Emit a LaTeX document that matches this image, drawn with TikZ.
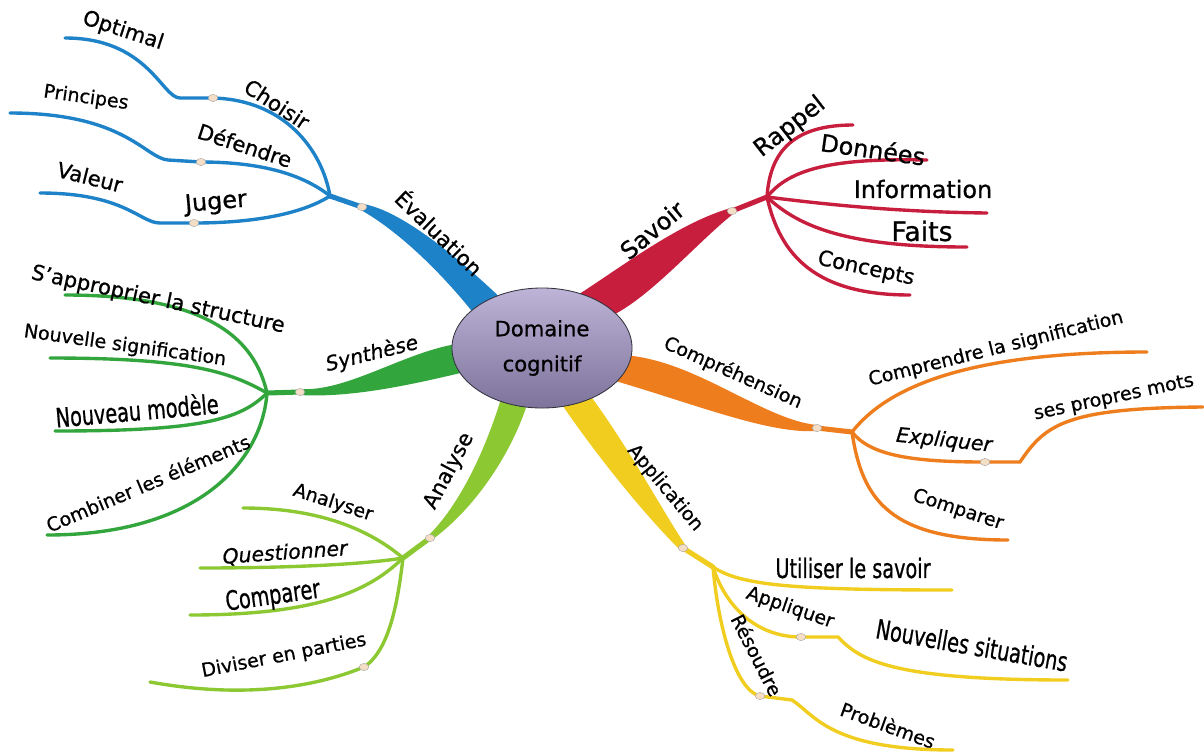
\documentclass[tikz,border=0pt]{standalone}
\usepackage{fontspec}
\setmainfont{DejaVu Sans}[FakeBold=0.7]
\usetikzlibrary{shapes.geometric}
\pgfdeclarelayer{back}
\pgfsetlayers{back,main}
\definecolor{evalblue}{RGB}{30,130,200}
\definecolor{savred}{RGB}{200,30,62}
\definecolor{comporange}{RGB}{238,125,30}
\definecolor{appyellow}{RGB}{240,205,30}
\definecolor{anagreen}{RGB}{140,200,50}
\definecolor{syngreen}{RGB}{50,165,60}
\definecolor{bubbletop}{RGB}{190,180,215}
\definecolor{bubblebot}{RGB}{125,115,155}
\definecolor{bubbleline}{RGB}{50,50,60}
\definecolor{knotfill}{RGB}{245,222,198}
\tikzstyle{bubble} = [ellipse, minimum width=4.5cm, minimum height=3cm, inner sep=0pt, align=center, draw=bubbleline, line width=0.6pt, top color=bubbletop, bottom color=bubblebot, font=\fontsize{15}{25}\selectfont]
\tikzstyle{knot} = [ellipse, minimum width=2.4mm, minimum height=1.8mm, inner sep=0pt, fill=knotfill, draw=black!35, line width=0.3pt]
\tikzstyle{twig} = [line width=2.4pt, line cap=round]
\tikzstyle{stem} = [line width=3.6pt, line cap=round]
\tikzstyle{txt} = [inner sep=1pt, font=\fontsize{15}{18}\selectfont]
\tikzstyle{txtsmall} = [inner sep=1pt, font=\fontsize{13.5}{16}\selectfont]
\tikzstyle{txtbig} = [inner sep=1pt, font=\fontsize{17}{20}\selectfont]
\tikzstyle{txthuge} = [inner sep=1pt, font=\fontsize{19}{22}\selectfont]
\tikzstyle{txtit} = [inner sep=1pt, font=\fontsize{14.5}{17}\selectfont\itshape]
\tikzstyle{txtnarrow} = [inner sep=1pt, font=\fontsize{19}{22}\selectfont\addfontfeature{FakeStretch=0.72}]

\begin{document}
\begin{tikzpicture}[x=0.025cm, y=-0.025cm]
\useasboundingbox (0,0) rectangle (1204,752);
\node (dom) [bubble] at (542,348) {Domaine\\cognitif};

% knots on the branches
\node (kEval) [knot] at (362,207) {};
\node (kChoi) [knot] at (213,98) {};
\node (kDef) [knot] at (201,162) {};
\node (kJug) [knot] at (194,223) {};
\node (kSav) [knot] at (732,211) {};
\node (kCom) [knot] at (817,428) {};
\node (kExp) [knot] at (985,462) {};
\node (kApp) [knot] at (683,548) {};
\node (kApl) [knot] at (801,637) {};
\node (kRes) [knot] at (760,696) {};
\node (kAna) [knot] at (430,538) {};
\node (kDiv) [knot] at (364,667) {};
\node (kSyn) [knot] at (300,392) {};

% forks and ends
\coordinate (bEval) at (330,196);
\coordinate (cOpt) at (180,98);
\coordinate (eOpt) at (65,38);
\coordinate (cPri) at (168,160);
\coordinate (ePri) at (10,113);
\coordinate (cVal) at (160,223);
\coordinate (eVal) at (40,193);
\coordinate (bSav) at (767,197);
\coordinate (eRap) at (853,125);
\coordinate (eDon) at (927,160);
\coordinate (eInf) at (987,213);
\coordinate (eFai) at (967,247);
\coordinate (eCon) at (910,295);
\coordinate (bCom) at (852,432);
\coordinate (eSig) at (1147,352);
\coordinate (cMot) at (1020,462);
\coordinate (eMot) at (1203,407);
\coordinate (eCmp) at (1008,540);
\coordinate (bApp) at (713,567);
\coordinate (eUti) at (952,590);
\coordinate (cSit) at (838,637);
\coordinate (eSit) at (1068,680);
\coordinate (cPro) at (792,700);
\coordinate (ePro) at (953,750);
\coordinate (bAna) at (403,558);
\coordinate (eAnr) at (243,508);
\coordinate (eQue) at (200,568);
\coordinate (eCpr) at (190,615);
\coordinate (eDiv) at (150,682);
\coordinate (bSyn) at (267,393);
\coordinate (eStr) at (65,295);
\coordinate (eNsi) at (50,358);
\coordinate (eNmo) at (55,431);
\coordinate (eCmb) at (47,535);

\begin{pgfonlayer}{back}
\fill[white] (0,0) rectangle (1204,752);
% Evaluation
\fill[evalblue] (dom.152) .. controls (455,290) and (410,238) .. ([shift={(-1,3)}]kEval.center) -- ([shift={(1,-3)}]kEval.center) .. controls (400,210) and (455,255) .. (dom.130) -- cycle;
\draw[stem, evalblue] (kEval.center) -- (bEval);
\draw[twig, evalblue] (bEval) .. controls (322,150) and (285,100) .. (kChoi.center) -- (cOpt) .. controls (162,98) and (148,38) .. (eOpt);
\draw[twig, evalblue] (bEval) .. controls (300,172) and (255,162) .. (kDef.center) -- (cPri) .. controls (145,158) and (125,113) .. (ePri);
\draw[twig, evalblue] (bEval) .. controls (305,212) and (260,223) .. (kJug.center) -- (cVal) .. controls (140,223) and (125,193) .. (eVal);
% Savoir
\fill[savred] (dom.55) .. controls (620,268) and (680,222) .. ([shift={(-1,-3)}]kSav.center) -- ([shift={(1,3)}]kSav.center) .. controls (698,242) and (655,292) .. (dom.25) -- cycle;
\draw[stem, savred] (kSav.center) -- (bSav);
\draw[twig, savred] (bSav) .. controls (770,150) and (795,125) .. (eRap);
\draw[twig, savred] (bSav) .. controls (790,168) and (835,158) .. (eDon);
\draw[twig, savred] (bSav) .. controls (830,205) and (900,212) .. (eInf);
\draw[twig, savred] (bSav) .. controls (800,228) and (850,247) .. (eFai);
\draw[twig, savred] (bSav) .. controls (780,255) and (815,295) .. (eCon);
% Comprehension
\fill[comporange] (dom.-5) .. controls (700,364) and (765,420) .. ([shift={(0,-3)}]kCom.center) -- ([shift={(0,3)}]kCom.center) .. controls (770,434) and (700,406) .. (dom.-24) -- cycle;
\draw[stem, comporange] (kCom.center) -- (bCom);
\draw[twig, comporange] (bCom) .. controls (885,390) and (960,352) .. (eSig);
\draw[twig, comporange] (bCom) .. controls (870,455) and (910,462) .. (kExp.center) -- (cMot) .. controls (1045,425) and (1065,408) .. (eMot);
\draw[twig, comporange] (bCom) .. controls (862,500) and (890,540) .. (eCmp);
% Application
\fill[appyellow] (dom.-45) .. controls (630,450) and (662,510) .. ([shift={(3,-2)}]kApp.center) -- ([shift={(-3,2)}]kApp.center) .. controls (645,515) and (600,460) .. (dom.-70) -- cycle;
\draw[stem, appyellow] (kApp.center) -- (bApp);
\draw[twig, appyellow] (bApp) .. controls (740,585) and (790,590) .. (eUti);
\draw[twig, appyellow] (bApp) .. controls (725,605) and (755,637) .. (kApl.center) -- (cSit) .. controls (860,660) and (890,680) .. (eSit);
\draw[twig, appyellow] (bApp) .. controls (718,625) and (735,690) .. (kRes.center) -- (cPro) .. controls (815,715) and (830,750) .. (ePro);
% Analyse
\fill[anagreen] (dom.-128) .. controls (485,450) and (460,505) .. ([shift={(-3,-1)}]kAna.center) -- ([shift={(3,1)}]kAna.center) .. controls (475,508) and (510,455) .. (dom.-105) -- cycle;
\draw[stem, anagreen] (kAna.center) -- (bAna);
\draw[twig, anagreen] (bAna) .. controls (370,530) and (320,508) .. (eAnr);
\draw[twig, anagreen] (bAna) .. controls (360,565) and (280,568) .. (eQue);
\draw[twig, anagreen] (bAna) .. controls (370,590) and (320,615) .. (eCpr);
\draw[twig, anagreen] (bAna) .. controls (398,600) and (390,650) .. (kDiv.center) .. controls (320,685) and (250,700) .. (eDiv);
% Synthese
\fill[syngreen] (dom.178) .. controls (400,355) and (345,392) .. ([shift={(0,-3)}]kSyn.center) -- ([shift={(0,3)}]kSyn.center) .. controls (350,398) and (410,385) .. (dom.197) -- cycle;
\draw[stem, syngreen] (kSyn.center) -- (bSyn);
\draw[twig, syngreen] (bSyn) .. controls (255,340) and (210,295) .. (eStr);
\draw[twig, syngreen] (bSyn) .. controls (230,372) and (190,358) .. (eNsi);
\draw[twig, syngreen] (bSyn) .. controls (240,420) and (200,431) .. (eNmo);
\draw[twig, syngreen] (bSyn) .. controls (262,460) and (200,535) .. (eCmb);
\end{pgfonlayer}

% labels
\node (tEval) [txt, rotate=-44] at (440,232) {Évaluation};
\node (tChoi) [txt, rotate=-33] at (277,104) {Choisir};
\node (tOpt) [txt, rotate=-18] at (123,31) {Optimal};
\node (tDef) [txt, rotate=-18] at (245,145) {Défendre};
\node (tPri) [txtsmall, rotate=-8] at (86,98) {Principes};
\node (tJug) [txtbig, rotate=5] at (216,203) {Juger};
\node (tVal) [txt, rotate=-14] at (90,177) {Valeur};
\node (tSav) [txtbig, rotate=40] at (652,230) {Savoir};
\node (tRap) [txtbig, rotate=38] at (790,127) {Rappel};
\node (tDon) [txtbig, rotate=-8] at (873,149) {Données};
\node (tInf) [txtbig] at (923,189) {Information};
\node (tFai) [txthuge] at (922,231) {Faits};
\node (tCon) [txt, rotate=-12] at (866,269) {Concepts};
\node (tCom) [txtsmall, rotate=-24] at (733,373) {Compréhension};
\node (tSig) [txtsmall, rotate=14] at (996,349) {Comprendre la signification};
\node (tExp) [txtit, rotate=-6] at (944,441) {Expliquer};
\node (tMot) [txtsmall, rotate=12] at (1114,398) {ses propres mots};
\node (tCmp) [txtsmall, rotate=-18] at (958,510) {Comparer};
\node (tApp) [txtsmall, rotate=-50] at (665,488) {Application};
\node (tUti) [txtnarrow] at (853,568) {Utiliser le savoir};
\node (tApl) [txtsmall, rotate=-19] at (790,608) {Appliquer};
\node (tSit) [txtnarrow, rotate=-10] at (972,645) {Nouvelles situations};
\node (tRes) [txtsmall, rotate=-63] at (757,655) {Résoudre};
\node (tPro) [txtsmall, rotate=-20] at (888,725) {Problèmes};
\node (tAna) [txt, rotate=62] at (449,471) {Analyse};
\node (tAnr) [txtsmall, rotate=-18] at (333,503) {Analyser};
\node (tQue) [txtit, rotate=4] at (285,553) {Questionner};
\node (tCpr) [txtnarrow, rotate=8] at (273,597) {Comparer};
\node (tDiv) [txtsmall, rotate=11] at (284,656) {Diviser en parties};
\node (tSyn) [txtit, rotate=14] at (372,354) {Synthèse};
\node (tStr) [txt, rotate=-12] at (158,300) {S'approprier la structure};
\node (tNsi) [txtsmall, rotate=-8] at (125,346) {Nouvelle signification};
\node (tNmo) [txtnarrow, rotate=5] at (137,410) {Nouveau modèle};
\node (tCmb) [txtsmall, rotate=23] at (148,483) {Combiner les éléments};
\end{tikzpicture}
\end{document}
